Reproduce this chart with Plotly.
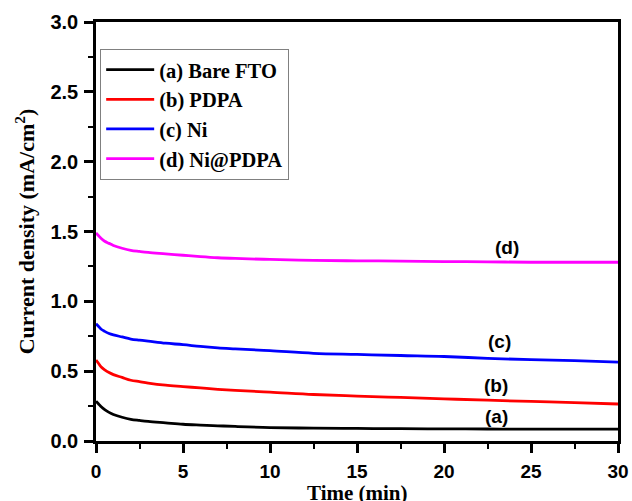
import plotly.graph_objects as go

time_min = [0, 0.15, 0.3, 0.5, 0.75, 1, 1.5, 2, 2.5, 3, 4, 5, 6, 7, 8, 10, 12.5, 15, 17.5, 20, 22.5, 25, 27.5, 30]
bare_fto = [0.285, 0.265, 0.245, 0.225, 0.205, 0.19, 0.17, 0.155, 0.147, 0.14, 0.13, 0.12, 0.114, 0.109, 0.104, 0.096, 0.092, 0.09, 0.088, 0.087, 0.086, 0.085, 0.085, 0.085]
pdpa = [0.58, 0.555, 0.53, 0.51, 0.49, 0.475, 0.455, 0.435, 0.425, 0.415, 0.40, 0.39, 0.38, 0.37, 0.362, 0.35, 0.333, 0.322, 0.312, 0.302, 0.292, 0.283, 0.275, 0.265]
ni = [0.84, 0.82, 0.80, 0.785, 0.77, 0.76, 0.745, 0.73, 0.722, 0.715, 0.70, 0.69, 0.677, 0.667, 0.66, 0.647, 0.628, 0.62, 0.612, 0.605, 0.592, 0.582, 0.575, 0.565]
ni_pdpa = [1.49, 1.47, 1.45, 1.43, 1.415, 1.40, 1.38, 1.365, 1.357, 1.35, 1.34, 1.33, 1.32, 1.312, 1.307, 1.30, 1.293, 1.29, 1.288, 1.285, 1.283, 1.28, 1.28, 1.28]

series_names = ["(a) Bare FTO", "(b) PDPA", "(c) Ni", "(d) Ni@PDPA"]
series_colors = ["#000000", "#ff0000", "#0000ff", "#ff00ff"]
series_values = [bare_fto, pdpa, ni, ni_pdpa]

label_texts = ["(a)", "(b)", "(c)", "(d)"]
label_x = [23.0, 23.0, 23.2, 23.6]
label_y = [0.177, 0.397, 0.709, 1.383]

x_title = "Time (min)"
y_title = "Current density (mA/cm<sup>2</sup>)"

fig = go.Figure()
for name, color, vals in zip(series_names, series_colors, series_values):
    fig.add_trace(go.Scatter(x=time_min, y=vals, mode="lines", name=name,
                             line=dict(color=color, width=2.8, shape="spline", smoothing=1.0)))

for t, x, y in zip(label_texts, label_x, label_y):
    fig.add_annotation(x=x, y=y, xref="x", yref="y", text=t, showarrow=False,
                       font=dict(family="Liberation Sans", size=19, color="black", weight="bold"))

fig.add_annotation(x=0.5, y=-0.124, xref="paper", yref="paper", text=x_title, showarrow=False,
                   xanchor="center", yanchor="middle",
                   font=dict(family="Liberation Serif", size=21, color="black", weight="bold"))

axis_common = dict(showline=True, linecolor="black", linewidth=2.5, mirror=True,
                   ticks="outside", ticklen=9, tickwidth=2.5, tickcolor="black",
                   showgrid=False, zeroline=False, automargin=False,
                   tickfont=dict(family="Liberation Sans", size=20, color="black", weight="bold"))

fig.update_layout(
    width=632, height=501,
    margin=dict(l=96, r=14, t=22, b=60),
    plot_bgcolor="white", paper_bgcolor="white",
    showlegend=True,
    legend=dict(x=0.008, y=0.936, xanchor="left", yanchor="top",
                bordercolor="#808080", borderwidth=1, bgcolor="white",
                font=dict(family="Liberation Serif", size=20.5, color="black", weight="bold"),
                tracegroupgap=0, itemwidth=48),
    xaxis=dict(range=[0, 30], tickvals=[0, 5, 10, 15, 20, 25, 30], ticklabelstandoff=2,
               minor=dict(ticks="outside", ticklen=5, tickwidth=2, tickcolor="black", dtick=2.5),
               **axis_common),
    yaxis=dict(range=[0, 3], tickvals=[0, 0.5, 1.0, 1.5, 2.0, 2.5, 3.0], tickformat=".1f",
               ticklabelstandoff=2,
               minor=dict(ticks="outside", ticklen=5, tickwidth=2, tickcolor="black", dtick=0.25),
               title=dict(text=y_title, standoff=10,
                          font=dict(family="Liberation Serif", size=22, color="black", weight="bold")),
               **axis_common),
)
fig.update_xaxes(tickfont=dict(size=19))

fig.write_html("out.html")
